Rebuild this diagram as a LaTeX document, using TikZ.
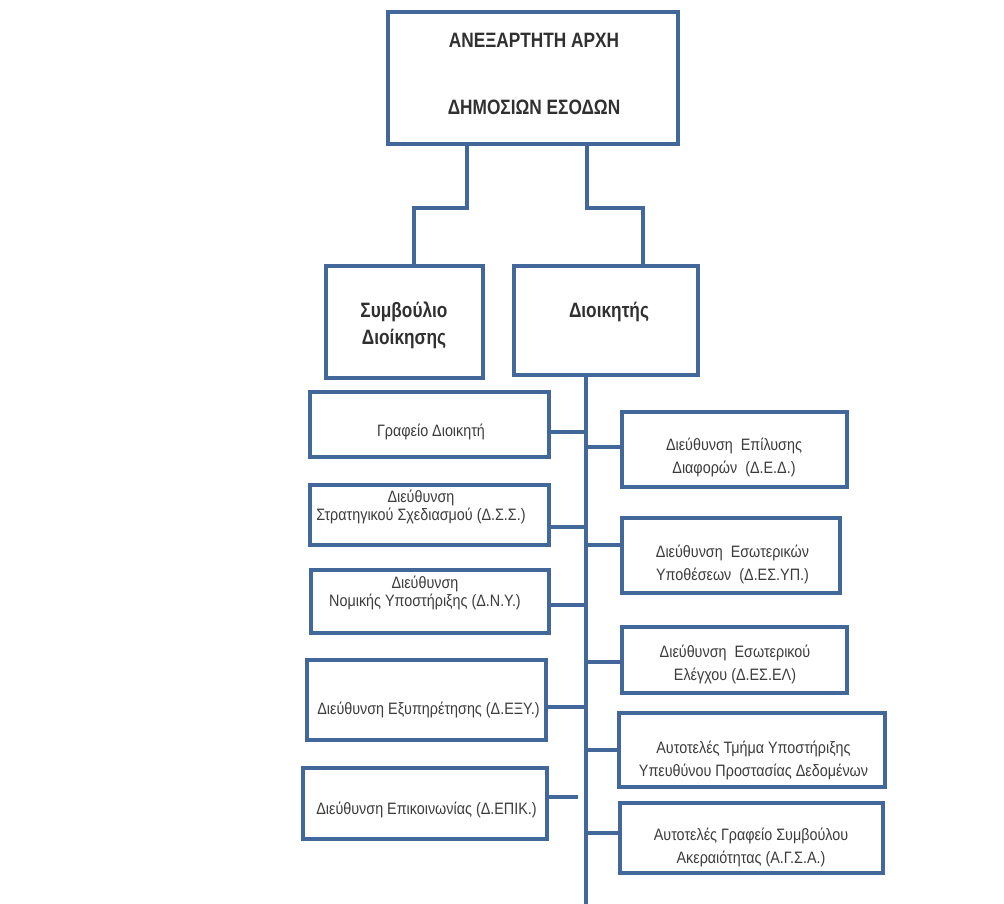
\documentclass[tikz,border=0pt]{standalone}
\usepackage{fontspec}
\setmainfont{Liberation Sans}
\newfontfamily\boldnarrow[FakeStretch=0.83]{Liberation Sans}
\newfontfamily\smallnarrow[FakeStretch=0.87]{Liberation Sans}
\definecolor{bc}{RGB}{66,103,155}
\definecolor{tc}{RGB}{48,48,48}
\definecolor{sc}{RGB}{60,60,60}
\begin{document}
\begin{tikzpicture}[x=1pt,y=-1pt,
  box/.style={draw=bc, line width=3.8pt, fill=white, inner sep=0pt},
  wire/.style={draw=bc, line width=4pt},
  bigtxt/.style={font=\boldnarrow\bfseries\fontsize{20.8}{27}\selectfont, text=tc, align=center, inner sep=0pt},
  smalltxt/.style={font=\smallnarrow\fontsize{16.5}{18}\selectfont, text=sc, align=center, inner sep=0pt},
  widetxt/.style={font=\smallnarrow\fontsize{16.5}{23}\selectfont, text=sc, align=center, inner sep=0pt}]
\useasboundingbox[fill=white] (0,0) rectangle (1004,904);

% boxes
\node[box, minimum width=290pt, minimum height=132pt] (top) at (533,78) {};
\node[box, minimum width=157pt, minimum height=112pt] (sym) at (404.5,322) {};
\node[box, minimum width=184pt, minimum height=109pt] (dio) at (606,320.5) {};

\node[box, minimum width=239pt, minimum height=65pt] (L1) at (429.5,424.5) {};
\node[box, minimum width=239pt, minimum height=60pt] (L2) at (429.5,515) {};
\node[box, minimum width=238pt, minimum height=63pt] (L3) at (430,601.5) {};
\node[box, minimum width=239pt, minimum height=80pt] (L4) at (426.5,700) {};
\node[box, minimum width=244pt, minimum height=71pt] (L5) at (425,803.5) {};

\node[box, minimum width=225pt, minimum height=75pt] (R1) at (734.5,449.5) {};
\node[box, minimum width=218pt, minimum height=75pt] (R2) at (731,555.5) {};
\node[box, minimum width=225pt, minimum height=66pt] (R3) at (734.5,660) {};
\node[box, minimum width=266pt, minimum height=74pt] (R4) at (752,750) {};
\node[box, minimum width=263pt, minimum height=70pt] (R5) at (751.5,838) {};

% texts
\node[bigtxt, font=\boldnarrow\bfseries\fontsize{20.8}{67}\selectfont] (topt) at (534,74) {ΑΝΕΞΑΡΤΗΤΗ ΑΡΧΗ\\ΔΗΜΟΣΙΩΝ ΕΣΟΔΩΝ};
\node[bigtxt] (symt) at (404,325) {Συμβούλιο\\Διοίκησης};
\node[bigtxt] (diot) at (609,312) {Διοικητής};

\node[smalltxt] (L1t) at (431,432) {Γραφείο Διοικητή};
\node[smalltxt] (L2t) at (421,507) {Διεύθυνση\\Στρατηγικού Σχεδιασμού (Δ.Σ.Σ.)};
\node[smalltxt] (L3t) at (425,593) {Διεύθυνση\\Νομικής Υποστήριξης (Δ.Ν.Υ.)};
\node[smalltxt] (L4t) at (428.5,710) {Διεύθυνση Εξυπηρέτησης (Δ.ΕΞΥ.)};
\node[smalltxt] (L5t) at (426.5,810) {Διεύθυνση Επικοινωνίας (Δ.ΕΠΙΚ.)};

\node[widetxt] (R1t) at (734,457) {Διεύθυνση~ Επίλυσης\\Διαφορών~ (Δ.Ε.Δ.)};
\node[widetxt] (R2t) at (732.5,564) {Διεύθυνση~ Εσωτερικών\\Υποθέσεων~ (Δ.ΕΣ.ΥΠ.)};
\node[widetxt] (R3t) at (735,664) {Διεύθυνση~ Εσωτερικού\\Ελέγχου (Δ.ΕΣ.ΕΛ)};
\node[widetxt] (R4t) at (753.5,760) {Αυτοτελές Τμήμα Υποστήριξης\\Υπευθύνου Προστασίας Δεδομένων};
\node[widetxt] (R5t) at (751,847) {Αυτοτελές Γραφείο Συμβούλου\\Ακεραιότητας (Α.Γ.Σ.Α.)};

% top connectors
\coordinate (ja) at (467,208);
\coordinate (jb) at (414,208);
\coordinate (jc) at (587,208);
\coordinate (jd) at (643,208);
\draw[wire] (top.south -| ja) -- (ja) -- (jb) -- (sym.north -| jb);
\draw[wire] (top.south -| jc) -- (jc) -- (jd) -- (dio.north -| jd);

% trunk
\coordinate (tb) at (586,904);
\draw[wire] (dio.south -| tb) -- (tb);

% left connectors
\coordinate (ta1) at (586,432);
\coordinate (ta2) at (586,527);
\coordinate (ta3) at (586,605);
\coordinate (ta4) at (586,707);
\coordinate (e5) at (578,797);
\draw[wire] (L1.east |- ta1) -- (ta1);
\draw[wire] (L2.east |- ta2) -- (ta2);
\draw[wire] (L3.east |- ta3) -- (ta3);
\draw[wire] (L4.east |- ta4) -- (ta4);
\draw[wire] (L5.east |- e5) -- (e5);

% right connectors
\coordinate (tr1) at (586,447);
\coordinate (tr2) at (586,545);
\coordinate (tr3) at (586,662);
\coordinate (tr4) at (586,750);
\coordinate (tr5) at (586,833);
\draw[wire] (tr1) -- (R1.west |- tr1);
\draw[wire] (tr2) -- (R2.west |- tr2);
\draw[wire] (tr3) -- (R3.west |- tr3);
\draw[wire] (tr4) -- (R4.west |- tr4);
\draw[wire] (tr5) -- (R5.west |- tr5);
\end{tikzpicture}
\end{document}
